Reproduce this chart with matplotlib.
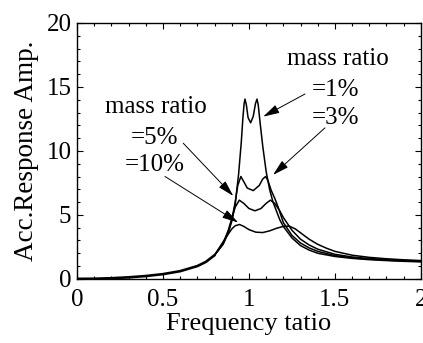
import numpy as np
import matplotlib.pyplot as plt

plt.rcParams['font.family'] = ['Liberation Serif', 'DejaVu Serif']
plt.rcParams['font.size'] = 18

# common low-frequency part (all four curves overlap here)
x_low = [0.0, 0.1, 0.2, 0.3, 0.4, 0.5, 0.6, 0.7, 0.75, 0.8]
y_low = [0.0, 0.01, 0.05, 0.12, 0.22, 0.37, 0.6, 1.0, 1.33, 1.85]

# mass ratio = 1%
x_1 = [0.85, 0.88, 0.9, 0.92, 0.94, 0.955, 0.965, 0.972, 0.977, 0.985, 0.995,
       1.01, 1.025, 1.038, 1.047, 1.054, 1.065, 1.08, 1.1, 1.12, 1.14, 1.16,
       1.18, 1.2, 1.25, 1.3, 1.35, 1.4, 1.5, 1.6, 1.7, 1.8, 1.9, 2.0]
y_1 = [2.7, 3.6, 4.5, 5.8, 8.2, 10.6, 12.6, 13.7, 14.05, 13.6, 12.6,
       12.2, 12.7, 13.7, 14.05, 13.6, 12.2, 10.4, 8.4, 7.0, 6.0, 5.3,
       4.6, 4.1, 3.2, 2.6, 2.25, 2.0, 1.75, 1.6, 1.5, 1.43, 1.37, 1.33]

# mass ratio = 3%
x_3 = [0.85, 0.88, 0.9, 0.92, 0.935, 0.953, 0.97, 0.99, 1.025, 1.06, 1.08,
       1.097, 1.11, 1.13, 1.15, 1.17, 1.2, 1.25, 1.3, 1.35, 1.4, 1.5, 1.6,
       1.7, 1.8, 1.9, 2.0]
y_3 = [2.75, 3.7, 4.6, 6.0, 7.3, 8.0, 7.6, 7.1, 6.9, 7.3, 7.8,
       8.0, 7.7, 6.9, 6.3, 5.6, 4.4, 3.4, 2.8, 2.42, 2.15, 1.82, 1.64,
       1.54, 1.46, 1.4, 1.36]

# mass ratio = 5%
x_5 = [0.85, 0.88, 0.9, 0.92, 0.944, 0.97, 1.0, 1.035, 1.07, 1.1, 1.125,
       1.15, 1.18, 1.2, 1.25, 1.3, 1.35, 1.4, 1.5, 1.6, 1.7, 1.8, 1.9, 2.0]
y_5 = [2.8, 3.8, 4.7, 5.6, 6.15, 5.9, 5.5, 5.32, 5.5, 5.9, 6.15,
       5.9, 5.3, 4.8, 3.8, 3.1, 2.65, 2.32, 1.92, 1.71, 1.59, 1.5, 1.44, 1.39]

# mass ratio = 10%
x_10 = [0.85, 0.88, 0.9, 0.92, 0.945, 0.97, 1.0, 1.04, 1.08, 1.12, 1.16,
        1.2, 1.235, 1.27, 1.3, 1.35, 1.4, 1.45, 1.5, 1.6, 1.7, 1.8, 1.9, 2.0]
y_10 = [2.9, 3.5, 3.9, 4.15, 4.25, 4.1, 3.85, 3.65, 3.62, 3.75, 3.95,
        4.1, 4.12, 3.9, 3.6, 3.1, 2.7, 2.4, 2.15, 1.85, 1.68, 1.57, 1.49, 1.43]

fig = plt.figure(figsize=(4.23, 3.43), dpi=100)
ax = fig.add_axes([0.182, 0.187, 0.813, 0.746])

# overlapping low part looks thicker in the original
ax.plot(x_low, y_low, color='black', lw=1.9, solid_capstyle='round')
for xs, ys in [(x_1, y_1), (x_3, y_3), (x_5, y_5), (x_10, y_10)]:
    ax.plot(x_low[-1:] + xs, y_low[-1:] + ys, color='black', lw=1.1)

ax.set_xlim(0, 2)
ax.set_ylim(0, 20)
ax.set_xticks([0, 0.5, 1, 1.5, 2])
ax.set_xticklabels(['0', '0.5', '1', '1.5', '2'])
ax.set_yticks([0, 5, 10, 15, 20])
ax.set_xticks(np.arange(0, 2.01, 0.1), minor=True)
ax.set_yticks(np.arange(0, 20.1, 1), minor=True)
ax.tick_params(which='both', direction='in', top=True, right=True, width=0.8)
ax.tick_params(which='major', length=4.5)
ax.tick_params(which='minor', length=2.5)
ax.tick_params(axis='x', which='major', pad=7)
ax.tick_params(axis='y', which='major', pad=4)
for s in ax.spines.values():
    s.set_linewidth(1.0)

ax.set_xlabel('Frequency tatio', fontsize=19, labelpad=2)
ax.set_ylabel('Acc.Response Amp.', fontsize=19.5, labelpad=5)

# annotations
ax.text(1.517, 17.2, 'mass ratio', ha='center', va='center')
ax.text(1.506, 14.77, '=1%', ha='center', va='center')
ax.text(1.506, 12.58, '=3%', ha='center', va='center')
ax.text(0.459, 13.44, 'mass ratio', ha='center', va='center')
ax.text(0.453, 11.0, '=5%', ha='center', va='center')
ax.text(0.453, 8.9, '=10%', ha='center', va='center')

arw = dict(arrowstyle='-|>,head_length=0.55,head_width=0.15', color='black',
           lw=0.7, shrinkA=0, shrinkB=0)
ax.annotate('', xy=(1.083, 12.68), xytext=(1.326, 14.45), arrowprops=arw)
ax.annotate('', xy=(1.14, 8.125), xytext=(1.442, 11.8), arrowprops=arw)
ax.annotate('', xy=(0.909, 6.48), xytext=(0.618, 10.6), arrowprops=arw)
ax.annotate('', xy=(0.938, 4.4), xytext=(0.512, 8.0), arrowprops=arw)

fig.savefig('out.png', dpi=100)
